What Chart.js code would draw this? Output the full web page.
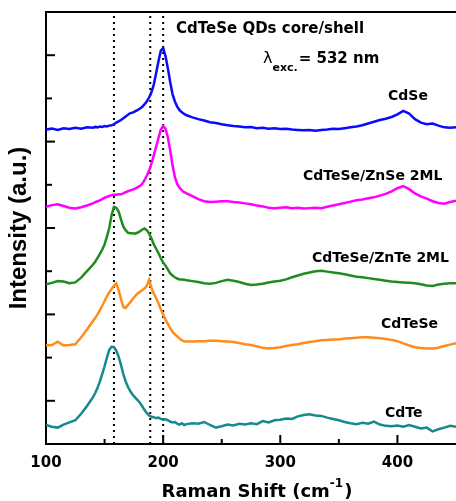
<!DOCTYPE html>
<html><head><meta charset="utf-8">
<script src="https://cdn.jsdelivr.net/npm/chart.js@4"></script>
<style>html,body{margin:0;padding:0;background:#fff;}#wrap{width:456px;height:501px;}</style>
</head><body><div id="wrap"><canvas id="c" width="456" height="501"></canvas></div>
<script>
// Raman shift (cm-1), shared by all spectra
const ramanShift = [100,105,110,115,120,125,130,135,
 140,142,144,146,148,150,152,154,156,158,160,162,164,166,168,170,172,174,176,178,180,182,184,186,188,190,192,194,196,198,200,202,204,206,208,210,212,214,216,218,220,
 225,230,235,240,245,250,255,260,265,270,275,280,285,290,295,300,305,310,315,320,325,330,335,340,345,350,355,360,365,370,375,380,385,390,395,400,405,410,415,420,425,430,435,440,445,450];

// Offset intensities (a.u.)
const cdSe = [7.28,7.30,7.27,7.31,7.29,7.32,7.30,7.33,
 7.32,7.34,7.33,7.35,7.34,7.36,7.35,7.37,7.38,7.40,7.44,7.47,7.50,7.54,7.58,7.62,7.66,7.67,7.70,7.73,7.76,7.80,7.86,7.93,8.02,8.14,8.32,8.58,8.86,9.10,9.17,8.98,8.70,8.38,8.10,7.93,7.81,7.73,7.68,7.64,7.61,
 7.56,7.52,7.49,7.45,7.43,7.40,7.38,7.36,7.35,7.33,7.34,7.31,7.32,7.30,7.31,7.29,7.30,7.28,7.27,7.26,7.27,7.25,7.27,7.28,7.30,7.29,7.31,7.33,7.35,7.38,7.42,7.46,7.50,7.53,7.57,7.63,7.71,7.65,7.52,7.44,7.40,7.42,7.37,7.33,7.32,7.33];
const cdTeSeZnSe = [5.49,5.53,5.55,5.51,5.47,5.45,5.48,5.52,
 5.57,5.60,5.62,5.64,5.67,5.70,5.72,5.74,5.76,5.77,5.77,5.78,5.78,5.80,5.83,5.85,5.87,5.89,5.91,5.94,5.97,6.02,6.10,6.21,6.33,6.49,6.68,6.88,7.08,7.28,7.36,7.30,7.10,6.80,6.45,6.18,6.02,5.93,5.87,5.83,5.80,
 5.74,5.67,5.62,5.60,5.61,5.62,5.62,5.60,5.59,5.57,5.55,5.52,5.50,5.47,5.46,5.47,5.48,5.46,5.47,5.45,5.46,5.47,5.46,5.49,5.52,5.55,5.58,5.61,5.64,5.66,5.69,5.71,5.75,5.79,5.85,5.92,5.97,5.90,5.80,5.73,5.68,5.62,5.58,5.56,5.60,5.63];
const cdTeSeZnTe = [3.70,3.73,3.77,3.76,3.72,3.74,3.85,4.00,
 4.15,4.22,4.31,4.40,4.50,4.62,4.80,5.00,5.30,5.49,5.47,5.38,5.20,5.03,4.95,4.89,4.88,4.88,4.87,4.89,4.92,4.96,4.99,4.95,4.87,4.76,4.62,4.52,4.42,4.30,4.20,4.13,4.04,3.95,3.90,3.86,3.83,3.81,3.81,3.80,3.79,
 3.77,3.75,3.72,3.71,3.73,3.77,3.80,3.78,3.75,3.71,3.68,3.69,3.71,3.74,3.76,3.78,3.81,3.86,3.90,3.94,3.97,4.00,4.01,3.99,3.97,3.95,3.93,3.90,3.87,3.86,3.84,3.82,3.80,3.78,3.76,3.75,3.74,3.73,3.72,3.70,3.67,3.66,3.69,3.71,3.72,3.72];
const cdTeSe = [2.28,2.29,2.37,2.28,2.29,2.31,2.47,2.65,
 2.84,2.92,3.00,3.10,3.20,3.31,3.42,3.51,3.59,3.66,3.72,3.56,3.36,3.17,3.15,3.22,3.28,3.36,3.42,3.48,3.52,3.56,3.60,3.66,3.80,3.62,3.48,3.38,3.25,3.12,3.00,2.88,2.78,2.68,2.60,2.54,2.49,2.44,2.40,2.38,2.37,
 2.37,2.38,2.38,2.39,2.39,2.38,2.37,2.36,2.34,2.31,2.29,2.26,2.23,2.21,2.22,2.24,2.27,2.29,2.31,2.34,2.36,2.38,2.40,2.41,2.42,2.42,2.44,2.45,2.46,2.47,2.47,2.46,2.45,2.43,2.41,2.38,2.33,2.28,2.24,2.22,2.21,2.21,2.23,2.27,2.30,2.33];
const cdTe = [0.44,0.40,0.38,0.45,0.50,0.55,0.70,0.88,
 1.08,1.18,1.30,1.45,1.62,1.80,2.00,2.18,2.25,2.24,2.16,2.02,1.83,1.62,1.45,1.32,1.22,1.14,1.08,1.02,0.96,0.88,0.79,0.72,0.66,0.63,0.62,0.60,0.61,0.58,0.56,0.57,0.55,0.52,0.50,0.51,0.47,0.45,0.48,0.44,0.46,
 0.48,0.47,0.51,0.44,0.38,0.41,0.45,0.43,0.47,0.45,0.48,0.46,0.53,0.50,0.55,0.56,0.59,0.58,0.64,0.67,0.69,0.66,0.65,0.61,0.58,0.55,0.51,0.48,0.46,0.49,0.47,0.52,0.45,0.42,0.41,0.43,0.40,0.44,0.40,0.36,0.38,0.29,0.34,0.38,0.42,0.40];

const seriesNames = ['CdSe','CdTeSe/ZnSe 2ML','CdTeSe/ZnTe 2ML','CdTeSe','CdTe'];
const peakMarkers = [158, 189, 200];
const xTicks = [100, 200, 300, 400];
const xMinorTicks = [150, 250, 350];
const yTicks = [1, 2, 3, 4, 5, 6, 7, 8, 9];
const xRange = [100, 450];
const yRange = [0, 10];
const xTitleMain = 'Raman Shift (cm';
const xTitleSup = '-1';
const xTitleEnd = ')';
const yTitle = 'Intensity (a.u.)';
const plotTitle = 'CdTeSe QDs core/shell';
const excSymbol = 'λ';
const excSub = 'exc.';
const excValue = '= 532 nm';

// presentation
const colors = ['#0a0aff', '#ff00ff', '#1f8c1f', '#ff8c1a', '#168a8a'];
const labelAnchors = [[392, 7.96], [319.4, 6.11], [327.1, 4.22], [386, 2.68], [389.4, 0.63]];
const titleAnchor = [211, 9.51];
const excAnchor = [285.2, 8.82];
const FONT = "'DejaVu Sans', sans-serif";

const seriesValues = [cdSe, cdTeSeZnSe, cdTeSeZnTe, cdTeSe, cdTe];
const datasets = seriesValues.map((vals, i) => ({
  label: seriesNames[i],
  data: ramanShift.map((x, j) => ({x: x, y: vals[j]})),
  borderColor: colors[i], borderWidth: 2.5, pointRadius: 0, tension: 0, fill: false
}));
peakMarkers.forEach(p => datasets.push({
  label: 'marker', data: [{x: p, y: yRange[0]}, {x: p, y: yRange[1]}],
  borderColor: '#000', borderWidth: 2, borderDash: [2, 4], pointRadius: 0, fill: false
}));

const frame = {
  id: 'frame',
  afterDraw(chart) {
    const {ctx, chartArea: a, scales: {x, y}} = chart;
    ctx.save();
    ctx.strokeStyle = '#000'; ctx.lineWidth = 2;
    const seg = (x1, y1, x2, y2) => { ctx.beginPath(); ctx.moveTo(x1, y1); ctx.lineTo(x2, y2); ctx.stroke(); };
    seg(a.left - 1, a.top, a.right, a.top);
    xTicks.forEach(v => { const p = x.getPixelForValue(v); seg(p, a.bottom, p, a.bottom - 9); });
    xMinorTicks.forEach(v => { const p = x.getPixelForValue(v); seg(p, a.bottom, p, a.bottom - 5); });
    yTicks.forEach(v => { const p = y.getPixelForValue(v); seg(a.left, p, a.left + (v % 2 ? 9 : 6), p); });

    ctx.fillStyle = '#000'; ctx.textAlign = 'left'; ctx.textBaseline = 'alphabetic';
    ctx.font = 'bold 14px ' + FONT;
    seriesNames.forEach((n, i) => ctx.fillText(n, x.getPixelForValue(labelAnchors[i][0]), y.getPixelForValue(labelAnchors[i][1])));
    ctx.font = 'bold 15px ' + FONT;
    ctx.fillText(plotTitle, x.getPixelForValue(titleAnchor[0]), y.getPixelForValue(titleAnchor[1]));

    let lx = x.getPixelForValue(excAnchor[0]);
    const ly = y.getPixelForValue(excAnchor[1]);
    ctx.font = '16px ' + FONT;
    ctx.fillText(excSymbol, lx, ly); lx += ctx.measureText(excSymbol).width;
    ctx.font = 'bold 11px ' + FONT;
    ctx.fillText(excSub, lx, ly + 8); lx += ctx.measureText(excSub).width + 1;
    ctx.font = 'bold 15px ' + FONT;
    ctx.fillText(excValue, lx, ly);

    // x-axis title with superscript
    ctx.font = 'bold 18px ' + FONT;
    const w1 = ctx.measureText(xTitleMain).width, w3 = ctx.measureText(xTitleEnd).width;
    ctx.font = 'bold 12px ' + FONT;
    const w2 = ctx.measureText(xTitleSup).width;
    const total = w1 + w2 + w3 + 1;
    let tx = (a.left + a.right) / 2 + 6 - total / 2;
    const ty = chart.height - 4;
    ctx.font = 'bold 18px ' + FONT;
    ctx.fillText(xTitleMain, tx, ty); tx += w1;
    ctx.font = 'bold 12px ' + FONT;
    ctx.fillText(xTitleSup, tx, ty - 10); tx += w2 + 1;
    ctx.font = 'bold 18px ' + FONT;
    ctx.fillText(xTitleEnd, tx, ty);
    ctx.restore();
  }
};

new Chart(document.getElementById('c'), {
  type: 'line',
  data: {datasets: datasets},
  plugins: [frame],
  options: {
    responsive: false, animation: false, devicePixelRatio: 1,
    layout: {padding: {top: 12, right: 0, left: 0, bottom: 0}},
    plugins: {legend: {display: false}, tooltip: {enabled: false}},
    scales: {
      x: {
        type: 'linear', min: xRange[0], max: xRange[1],
        grid: {display: false, drawTicks: false},
        border: {display: true, color: '#000', width: 2},
        ticks: {font: {family: FONT, weight: 'bold', size: 15}, color: '#000', padding: 10},
        afterBuildTicks: s => { s.ticks = xTicks.map(v => ({value: v})); },
        afterFit: s => { s.height = 57; }
      },
      y: {
        type: 'linear', min: yRange[0], max: yRange[1],
        grid: {display: false, drawTicks: false},
        border: {display: true, color: '#000', width: 2},
        ticks: {display: false},
        title: {display: true, text: yTitle, color: '#000',
          font: {family: "'Liberation Sans', Arial, sans-serif", weight: 'bold', size: 24},
          padding: {top: 5, bottom: 0}},
        afterFit: s => { s.width = 46; }
      }
    }
  }
});
</script></body></html>
